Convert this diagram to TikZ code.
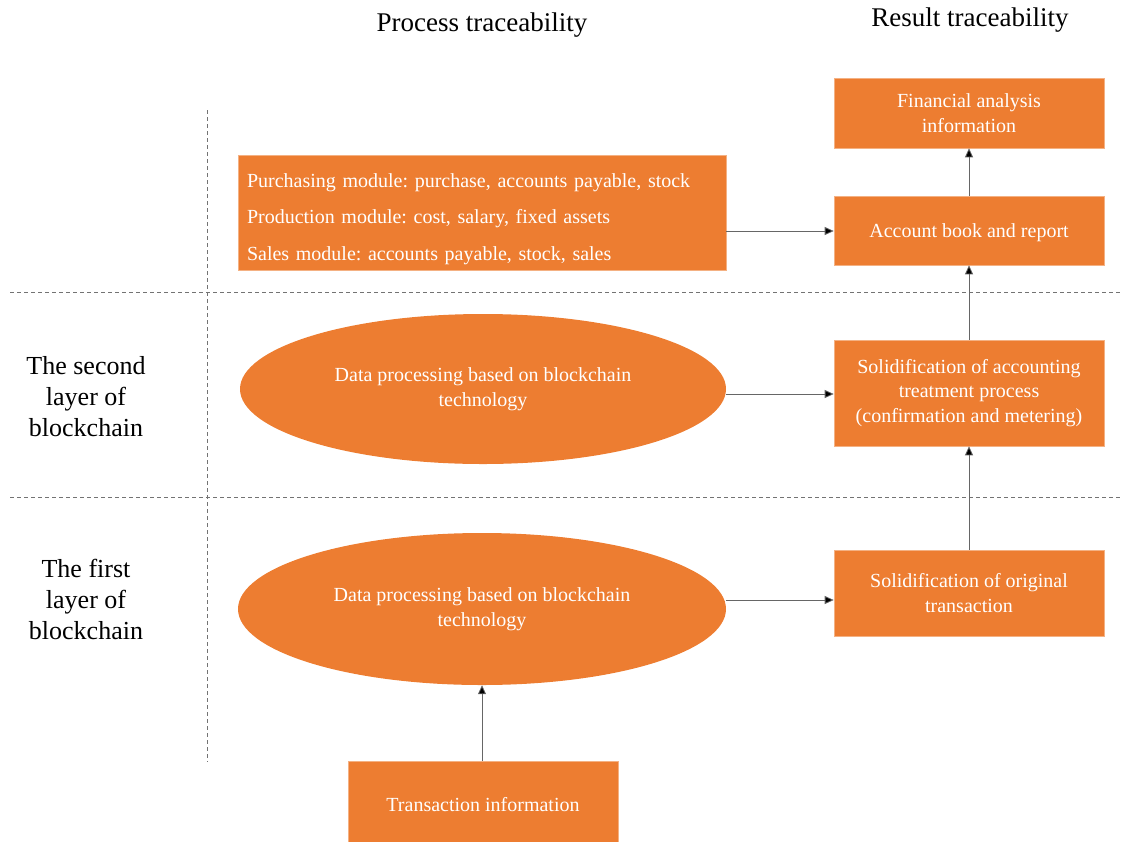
\documentclass[tikz,border=0pt]{standalone}
\usepackage{fontspec}
\setmainfont{Liberation Serif}
\frenchspacing
\usetikzlibrary{shapes.geometric,arrows.meta}
\definecolor{orng}{HTML}{ED7D31}
\definecolor{edge}{HTML}{F4B183}
\tikzset{
  box/.style={rectangle, fill=orng, draw=edge, line width=0.6pt, text=white, font=\fontsize{20}{24.5}\selectfont, align=center, inner sep=0pt},
  oval/.style={ellipse, fill=orng, draw=none, text=white, font=\fontsize{20}{24.5}\selectfont, align=center, inner sep=0pt},
  conn/.style={draw=black!60, line width=0.8pt, -{Triangle[length=9pt,width=8pt,fill=black]}},
  sep/.style={draw=black!55, line width=0.7pt, dash pattern=on 4pt off 3pt},
  head/.style={font=\fontsize{27}{30}\selectfont},
  side/.style={font=\fontsize{26}{31}\selectfont, align=center}
}
\begin{document}
\begin{tikzpicture}[x=1pt,y=-1pt]
\useasboundingbox (0,0) rectangle (1123,841);
% headings
\node[head] (h1) at (482,25) {Process traceability};
\node[head] (h2) at (970,20) {Result traceability};
% separators
\coordinate (v1) at (207,110); \coordinate (v2) at (207,762);
\draw[sep] (v1) -- (v2);
\coordinate (a1) at (10,292); \coordinate (a2) at (1123,292);
\draw[sep] (a1) -- (a2);
\coordinate (b1) at (10,497); \coordinate (b2) at (1123,497);
\draw[sep] (b1) -- (b2);
% side labels
\node[side] (l2) at (86,397) {The second\\layer of\\blockchain};
\node[side] (l1) at (86,599) {The first\\layer of\\blockchain};
% boxes
\node[box, minimum width=488pt, minimum height=115pt] (mod) at (482,212.5) {};
\node[text=white, align=left, font=\fontsize{20}{36.5}\selectfont, text width=470pt, inner sep=0pt] (modtext) at (482,219)
 {Purchasing module: purchase, accounts payable, stock\\Production module: cost, salary, fixed assets\\Sales module: accounts payable, stock, sales};
\node[box, minimum width=270pt, minimum height=70pt] (fin) at (969,113) {Financial analysis\\information};
\node[box, minimum width=270pt, minimum height=69pt] (acc) at (969,230.5) {\rule{0pt}{19pt}Account book and report};
\node[box, minimum width=270pt, minimum height=106pt] (sol) at (969,393) {Solidification of accounting\\treatment process\\(confirmation and metering)};
\node[box, minimum width=270pt, minimum height=86pt] (ori) at (969,593) {Solidification of original\\transaction};
\node[box, minimum width=270pt, minimum height=82pt] (tr) at (483,802) {\rule{0pt}{19pt}Transaction information};
\node[oval, minimum width=486pt, minimum height=150pt] (e1) at (483,389) {Data processing based on blockchain\\technology};
\node[oval, minimum width=488pt, minimum height=152pt] (e2) at (482,609) {Data processing based on blockchain\\technology};
% connectors
\draw[conn] (mod.east |- 0,231) -- (acc.west |- 0,231);
\draw[conn] (e1.east |- 0,394) -- (sol.west |- 0,394);
\draw[conn] (e2.east |- 0,600) -- (ori.west |- 0,600);
\draw[conn] (acc.north) -- (fin.south);
\draw[conn] (sol.north) -- (acc.south);
\draw[conn] (ori.north) -- (sol.south);
\draw[conn] (tr.north -| 482,0) -- (e2.south -| 482,0);
\end{tikzpicture}
\end{document}
